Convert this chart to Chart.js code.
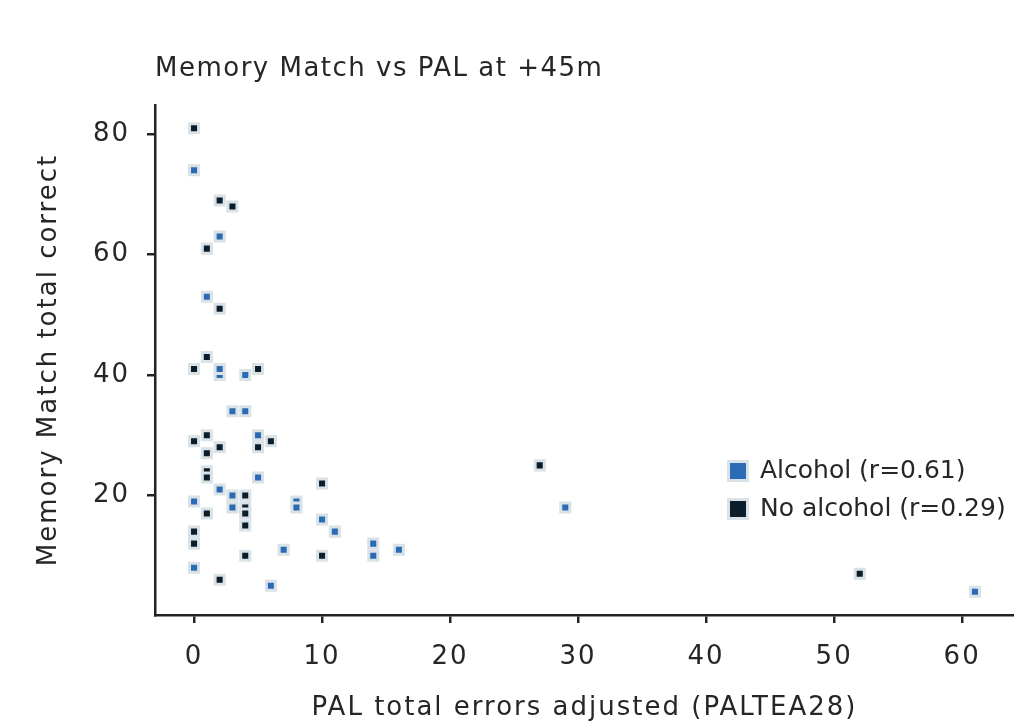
<!DOCTYPE html>
<html>
<head>
<meta charset="utf-8">
<script src="https://cdn.jsdelivr.net/npm/chart.js@4"></script>
<style>
  html, body { margin: 0; padding: 0; background: #fff; }
</style>
</head>
<body>
<canvas id="chart" width="1014" height="728"></canvas>
<script>
const chartTitle = 'Memory Match vs PAL at +45m';
const xLabel = 'PAL total errors adjusted (PALTEA28)';
const yLabel = 'Memory Match total correct';
const seriesNames = ['Alcohol (r=0.61)', 'No alcohol (r=0.29)'];

// Alcohol group
const alcoholX = [0, 2, 1, 2, 2, 4, 3, 4, 5, 5, 2, 3, 0, 3, 8, 8, 10, 11, 7, 0, 6, 14, 14, 16, 29, 61];
const alcoholY = [74, 63, 53, 40, 41, 40, 34, 34, 30, 23, 21, 20, 19, 18, 19, 18, 16, 14, 11, 8, 5, 12, 10, 11, 18, 4];

// No alcohol group
const noAlcoholX = [0, 2, 3, 1, 2, 1, 0, 5, 0, 1, 2, 1, 5, 6, 1, 1, 10, 4, 4, 4, 1, 0, 0, 4, 4, 10, 2, 27, 52];
const noAlcoholY = [81, 69, 68, 61, 51, 43, 41, 41, 29, 30, 28, 27, 28, 29, 24, 23, 22, 20, 18, 17, 17, 14, 12, 15, 10, 10, 6, 25, 7];

const xTicks = [0, 10, 20, 30, 40, 50, 60];
const yTicks = [20, 40, 60, 80];

const FONT = 'DejaVu Sans';
const TEXT = '#262626';
const AXIS = '#222222';
const colors = ['#2b6bb5', '#0b1d2a'];
const edge = '#d9e2e7';

function toPoints(xs, ys) {
    return xs.map((x, i) => ({ x: x, y: ys[i] }));
}

// wider letter spacing to get closer to the original geometric font
const spacing = {
    id: 'spacing',
    beforeDraw(chart) { chart.ctx.letterSpacing = '2px'; },
    beforeDatasetsDraw(chart) { chart.ctx.letterSpacing = '0px'; }
};

// title + legend drawn next to the plot area
const extras = {
    id: 'extras',
    afterDraw(chart) {
        const ctx = chart.ctx;
        const area = chart.chartArea;
        ctx.save();
        ctx.fillStyle = TEXT;
        ctx.letterSpacing = '1.5px';
        ctx.font = '26px "' + FONT + '"';
        ctx.textBaseline = 'alphabetic';
        ctx.textAlign = 'left';
        ctx.fillText(chartTitle, area.left, 76);

        ctx.letterSpacing = '0px';
        ctx.font = '25px "' + FONT + '"';
        chart.data.datasets.forEach((ds, i) => {
            const cy = 471 + i * 38;
            ctx.fillStyle = edge;
            ctx.fillRect(727, cy - 11, 22, 22);
            ctx.fillStyle = ds.backgroundColor;
            ctx.fillRect(730, cy - 8, 16, 16);
            ctx.fillStyle = TEXT;
            ctx.textBaseline = 'middle';
            ctx.fillText(ds.label, 760, cy);
        });
        ctx.restore();
    }
};

const ctx = document.getElementById('chart').getContext('2d');
const chart = new Chart(ctx, {
    type: 'scatter',
    data: {
        datasets: [
            {
                label: seriesNames[0],
                data: toPoints(alcoholX, alcoholY),
                backgroundColor: colors[0],
                borderColor: edge,
                borderWidth: 3,
                pointStyle: 'rect',
                pointRadius: 6.4
            },
            {
                label: seriesNames[1],
                data: toPoints(noAlcoholX, noAlcoholY),
                backgroundColor: colors[1],
                borderColor: edge,
                borderWidth: 3,
                pointStyle: 'rect',
                pointRadius: 6.4
            }
        ]
    },
    options: {
        responsive: false,
        animation: false,
        layout: { autoPadding: false, padding: { top: 105, right: 0, left: 0, bottom: 0 } },
        plugins: {
            legend: { display: false },
            title: { display: false },
            tooltip: { enabled: false }
        },
        scales: {
            x: {
                type: 'linear',
                min: -3.05,
                max: 64.05,
                afterBuildTicks: s => { s.ticks = xTicks.map(v => ({ value: v })); },
                afterFit: s => { s.height = 113; s.paddingRight = 0; s.paddingLeft = 0; },
                grid: { drawOnChartArea: false, tickLength: 8, color: AXIS, lineWidth: 2.5 },
                border: { color: AXIS, width: 2.5 },
                ticks: { color: TEXT, font: { family: FONT, size: 26 }, padding: 19 },
                title: {
                    display: true, text: xLabel, color: TEXT,
                    font: { family: FONT, size: 26 },
                    padding: { top: 0, bottom: 4 }
                }
            },
            y: {
                type: 'linear',
                min: 0.15,
                max: 84.85,
                afterBuildTicks: s => { s.ticks = yTicks.map(v => ({ value: v })); },
                afterFit: s => { s.width = 155; s.paddingTop = 0; s.paddingBottom = 0; },
                grid: { drawOnChartArea: false, tickLength: 8, color: AXIS, lineWidth: 2.5 },
                border: { color: AXIS, width: 2.5 },
                ticks: { color: TEXT, font: { family: FONT, size: 26 }, padding: 17 },
                title: {
                    display: true, text: yLabel, color: TEXT,
                    font: { family: FONT, size: 26 },
                    padding: { top: 34, bottom: 0 }
                }
            }
        }
    },
    plugins: [spacing, extras]
});
</script>
</body>
</html>
